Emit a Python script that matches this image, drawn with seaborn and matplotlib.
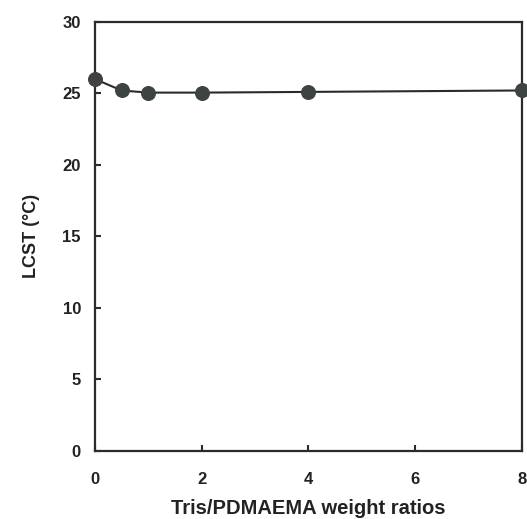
import matplotlib
matplotlib.use("Agg")
import matplotlib.pyplot as plt
import seaborn as sns
import pandas as pd

ratios = [0, 0.5, 1, 2, 4, 8]
lcst = [26.0, 25.2, 25.05, 25.05, 25.1, 25.2]
x_ticks = [0, 2, 4, 6, 8]
y_ticks = [0, 5, 10, 15, 20, 25, 30]

sns.set_style("ticks")
plt.rcParams['font.family'] = ['Liberation Sans', 'DejaVu Sans']

df = pd.DataFrame({"ratio": ratios, "lcst": lcst})

fig = plt.figure(figsize=(5.27, 5.19), dpi=100)
ax = fig.add_axes([0.180, 0.131, 0.8105, 0.827])
sns.lineplot(data=df, x="ratio", y="lcst", ax=ax, color="#2b2b2b", linewidth=1.5,
             marker="o", markersize=10, markerfacecolor="#3d4343",
             markeredgecolor="#3d4343", clip_on=False, zorder=5)

ax.set_xlim(0, 8)
ax.set_ylim(0, 30)
ax.set_xticks(x_ticks)
ax.set_yticks(y_ticks)
ax.tick_params(direction="in", length=4, width=1.5, color="#2b2b2b",
               labelsize=12)
ax.tick_params(axis="x", pad=15)
ax.tick_params(axis="y", pad=10)
for lab in ax.get_xticklabels() + ax.get_yticklabels():
    lab.set_fontweight("bold")
    lab.set_color("#222222")
for s in ax.spines.values():
    s.set_visible(True)
    s.set_linewidth(1.6)
    s.set_color("#2b2b2b")
ax.set_xlabel("Tris/PDMAEMA weight ratios", fontsize=14.5, fontweight="bold",
              color="#222222", labelpad=9)
ax.set_ylabel("LCST (°C)", fontsize=13, fontweight="bold", color="#222222",
              labelpad=16)

fig.savefig("out.png", dpi=100)
